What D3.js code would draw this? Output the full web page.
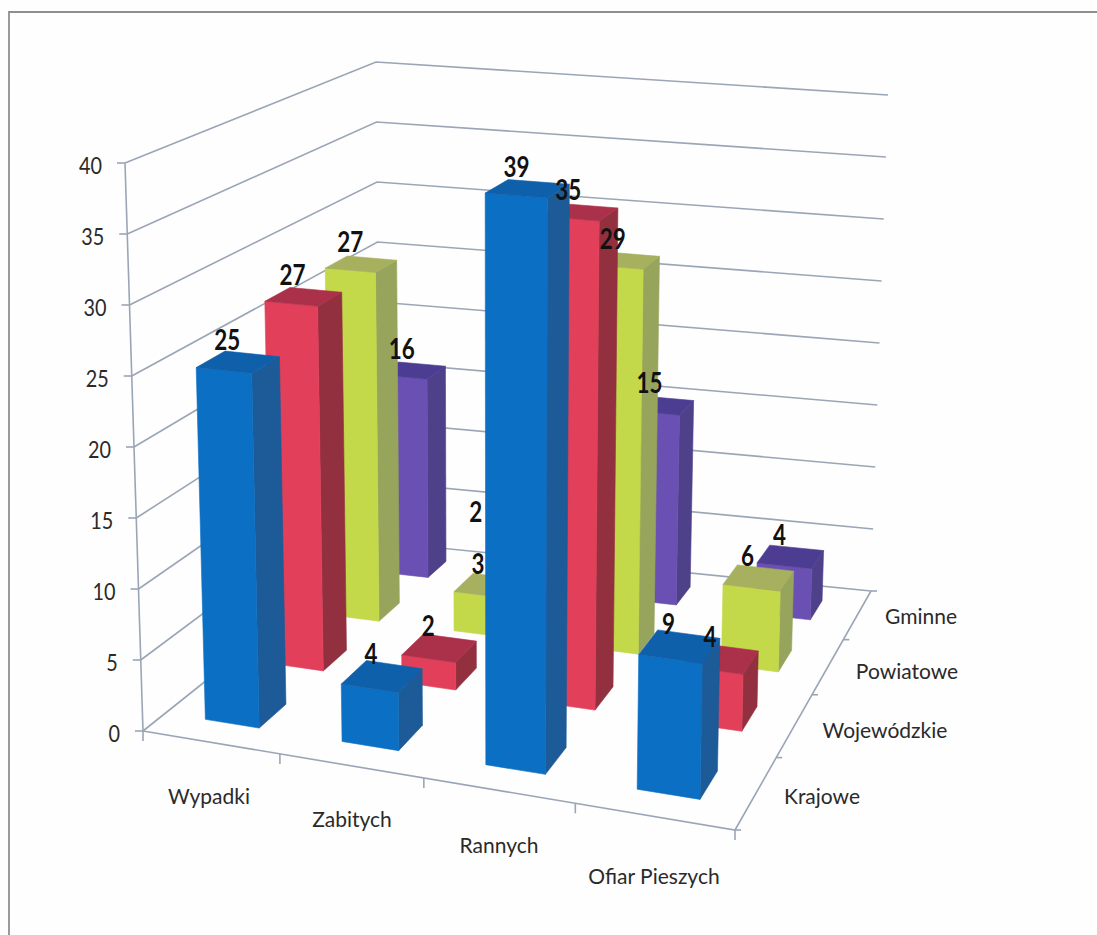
<!DOCTYPE html>
<html>
<head>
<meta charset="utf-8">
<script src="https://cdn.jsdelivr.net/npm/d3@7"></script>
<style>
 body { margin:0; background:#fefefe; }
 text { font-family:Lato, "Open Sans", sans-serif; fill:#2a2a2a; }
</style>
</head>
<body>
<div id="chart"></div>
<script>
 var categories = ["Wypadki", "Zabitych", "Rannych", "Ofiar Pieszych"];
 var rows = ["Krajowe", "Wojewódzkie", "Powiatowe", "Gminne"];
 var krajowe = [25, 4, 39, 9];
 var wojewodzkie = [27, 2, 35, 4];
 var powiatowe = [27, 3, 29, 6];
 var gminne = [16, 2, 15, 4];
 var seriesValues = [krajowe, wojewodzkie, powiatowe, gminne];
 var valueTicks = [0, 5, 10, 15, 20, 25, 30, 35, 40];

 var faceColors = [
   {front:"#0b6fc4", side:"#1d5a98", top:"#0f60aa"},
   {front:"#e23f5a", side:"#93303f", top:"#ab3049"},
   {front:"#c3d94a", side:"#97a45c", top:"#a6b05e"},
   {front:"#6a50b2", side:"#4f408a", top:"#4d3d92"}
 ];

 var width = 1097, height = 935;

 var svg = d3.select("#chart").append("svg")
   .attr("width", width)
   .attr("height", height);

 // box corners on the page, floor and top, front and back
 var floorFL = [143,731], floorFR = [735,830], floorBL = [380,542], floorBR = [871,591];
 var topFL = [125,163], topFR = [747,210], topBL = [376,62], topBR = [888,95];

 // gap width 150% in both directions
 var xBand = d3.scaleBand().domain(categories).range([0,1]).paddingInner(0.6).paddingOuter(0.3);
 var zBand = d3.scaleBand().domain(rows).range([0,1]).paddingInner(0.6).paddingOuter(0.3);
 var yScale = d3.scaleLinear().domain([0,40]).range([0,1]);

 // foreshortening along the two floor directions
 function warp(t, k){ return t / (t + k*(1-t)); }

 function mix(a, b, t){ return [a[0]+(b[0]-a[0])*t, a[1]+(b[1]-a[1])*t]; }

 function project(u, v, value){
   var uu = warp(u, 1.108), vv = warp(v, 0.767), w = yScale(value);
   var floor = mix(mix(floorFL, floorFR, uu), mix(floorBL, floorBR, uu), vv);
   var top = mix(mix(topFL, topFR, uu), mix(topBL, topBR, uu), vv);
   return mix(floor, top, w);
 }

 var line = d3.line();
 var axisColor = "#9aa6b6";

 // border of the scanned frame
 svg.append("path")
   .attr("d", "M9,935V12H1097")
   .attr("fill", "none")
   .attr("stroke", "#8f8f8f")
   .attr("stroke-width", 1.8);

 // gridlines on both walls
 svg.append("g").selectAll("path")
   .data(valueTicks)
   .join("path")
   .attr("d", function(d){ return line([project(0,0,d), project(0,1,d), project(1,1,d)]); })
   .attr("fill", "none")
   .attr("stroke", axisColor)
   .attr("stroke-width", 1.6);

 // axes lines
 svg.append("path").attr("d", line([project(0,0,0), project(0,0,40)]))
   .attr("fill","none").attr("stroke",axisColor).attr("stroke-width",1.6);
 svg.append("path").attr("d", line([project(0,0,0), project(1,0,0), project(1,1,0)]))
   .attr("fill","none").attr("stroke",axisColor).attr("stroke-width",1.6);

 // value ticks and labels
 var yAxis = svg.append("g");
 valueTicks.forEach(function(d){
   var p = project(0,0,d);
   yAxis.append("path").attr("d", line([[p[0]-8,p[1]], p]))
     .attr("stroke",axisColor).attr("stroke-width",1.6);
   yAxis.append("text")
     .attr("x", p[0]-23)
     .attr("y", p[1]+2)
     .attr("dy", "0.36em")
     .attr("text-anchor", "end")
     .attr("font-size", 24)
     .attr("textLength", String(d).length*11.5)
     .attr("lengthAdjust", "spacingAndGlyphs")
     .text(d);
 });

 // ticks between categories
 d3.range(0,5).forEach(function(i){
   var p = project(i/4,0,0);
   svg.append("path").attr("d", line([p, [p[0],p[1]+10]]))
     .attr("stroke",axisColor).attr("stroke-width",1.6);
 });
 d3.range(0,5).forEach(function(i){
   var p = project(1,i/4,0);
   svg.append("path").attr("d", line([p, [p[0]+6,p[1]]]))
     .attr("stroke",axisColor).attr("stroke-width",1.6);
 });

 // category labels
 var catLabelPos = [[209,797],[352,820],[499,846],[654,877]];
 svg.append("g").selectAll("text")
   .data(categories)
   .join("text")
   .attr("x", function(d,i){ return catLabelPos[i][0]; })
   .attr("y", function(d,i){ return catLabelPos[i][1]; })
   .attr("dy", "0.32em")
   .attr("text-anchor", "middle")
   .attr("font-size", 21)
   .text(function(d){ return d; });

 var rowLabelPos = [[822,797],[885,731],[907,672],[921,617]];
 svg.append("g").selectAll("text")
   .data(rows)
   .join("text")
   .attr("x", function(d,i){ return rowLabelPos[i][0]; })
   .attr("y", function(d,i){ return rowLabelPos[i][1]; })
   .attr("dy", "0.32em")
   .attr("text-anchor", "middle")
   .attr("font-size", 21)
   .text(function(d){ return d; });

 // bars, back row first, left to right
 var barLayer = svg.append("g");
 var labels = [];
 d3.range(rows.length-1,-1,-1).forEach(function(r){
   categories.forEach(function(c,i){
     var val = seriesValues[r][i];
     var x0 = xBand(c), x1 = x0 + xBand.bandwidth();
     var z0 = zBand(rows[r]), z1 = z0 + zBand.bandwidth();
     var col = faceColors[r];

     var front = [project(x0,z0,0), project(x1,z0,0), project(x1,z0,val), project(x0,z0,val)];
     var side = [project(x1,z0,0), project(x1,z1,0), project(x1,z1,val), project(x1,z0,val)];
     var top = [project(x0,z0,val), project(x1,z0,val), project(x1,z1,val), project(x0,z1,val)];

     [[side,col.side],[front,col.front],[top,col.top]].forEach(function(f){
       barLayer.append("path")
         .attr("d", line(f[0]) + "Z")
         .attr("fill", f[1])
         .attr("stroke", f[1])
         .attr("stroke-width", 0.6);
     });

     var mid = project((x0+x1)/2, (z0+z1)/2, val);
     var lx = mid[0] - 11, ly = mid[1] - 22;
     // this one was dragged clear of the tall bar in front of it
     if(r == 3 && i == 1){ lx -= 46; ly -= 21; }
     labels.push({x:lx, y:ly, text:val});
   });
 });

 // data labels go on top of all bars
 svg.append("g").selectAll("text")
   .data(labels)
   .join("text")
   .attr("x", function(d){ return d.x; })
   .attr("y", function(d){ return d.y; })
   .attr("dy", "0.36em")
   .attr("text-anchor", "middle")
   .attr("font-size", 28)
   .attr("font-weight", 700)
   .attr("textLength", function(d){ return String(d.text).length*13; })
   .attr("lengthAdjust", "spacingAndGlyphs")
   .style("fill", "#111")
   .text(function(d){ return d.text; });
</script>
</body>
</html>
